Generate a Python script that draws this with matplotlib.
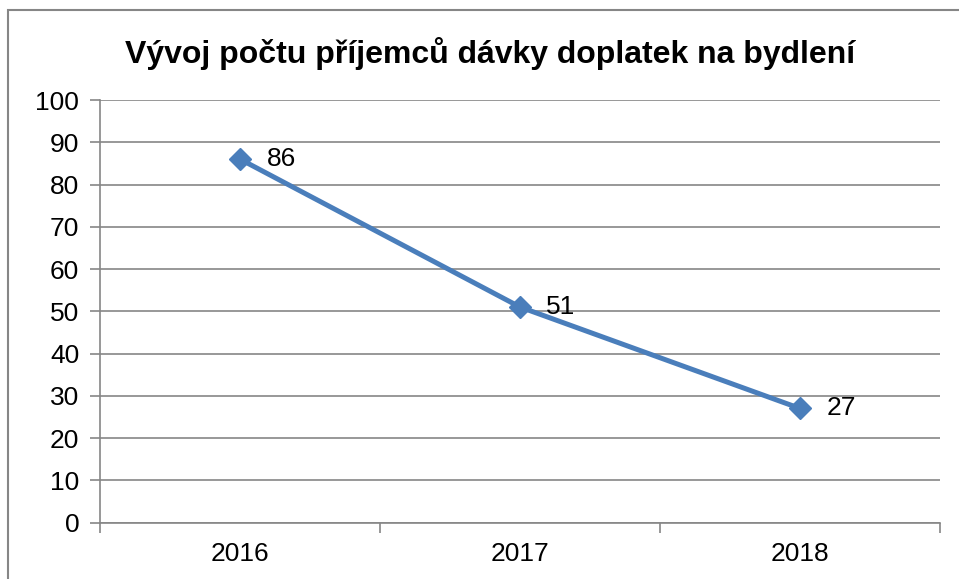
import matplotlib.pyplot as plt
from matplotlib.patches import Rectangle

roky = ['2016', '2017', '2018']
prijemci = [86, 51, 27]
y_ticks = list(range(0, 101, 10))

plt.rcParams['font.family'] = ['Liberation Sans', 'DejaVu Sans']

W, H = 959, 579
fig = plt.figure(figsize=(W / 100, H / 100), dpi=100)

# ramecek grafu (pravy a dolni okraj je mimo obrazek)
fig.patches.append(Rectangle((8 / W, -0.1), 1.2, 1 - 10 / H + 0.1, transform=fig.transFigure,
                             fill=False, edgecolor='#868686', linewidth=1.5))

ax = fig.add_axes([100 / W, 1 - 522.5 / H, 840 / W, 422.5 / H])

x = list(range(len(roky)))
ax.plot(x, prijemci, color='#4A7EBB', linewidth=3.6, marker='D', markersize=11.5,
        markerfacecolor='#4A7EBB', markeredgecolor='#4A7EBB', zorder=3)

for xi, v in zip(x, prijemci):
    ax.annotate(str(v), (xi, v), xytext=(19, 0), textcoords='offset points',
                ha='left', va='center', fontsize=19)

ax.set_xlim(-0.5, len(roky) - 0.5)
ax.set_ylim(0, 100)
ax.set_yticks(y_ticks)
ax.set_yticklabels([str(t) for t in y_ticks], fontsize=19)
ax.set_xticks(x)
ax.set_xticklabels(roky, fontsize=19)
ax.tick_params(axis='x', length=0, pad=14)
ax.set_xticks([i - 0.5 for i in range(len(roky) + 1)], minor=True)
ax.tick_params(axis='x', which='minor', length=7, color='#868686', width=1.2)
ax.tick_params(axis='y', length=7, color='#868686', width=1.2, pad=8)

ax.grid(axis='y', color='#868686', linewidth=1.2)
ax.set_axisbelow(True)
for s in ['top', 'right']:
    ax.spines[s].set_visible(False)
for s in ['left', 'bottom']:
    ax.spines[s].set_color('#868686')
    ax.spines[s].set_linewidth(1.2)

fig.text(490 / W, 1 - 54 / H, 'Vývoj počtu příjemců dávky doplatek na bydlení',
         ha='center', va='center', fontsize=23, fontweight='bold')

fig.savefig('out.png', dpi=100)
